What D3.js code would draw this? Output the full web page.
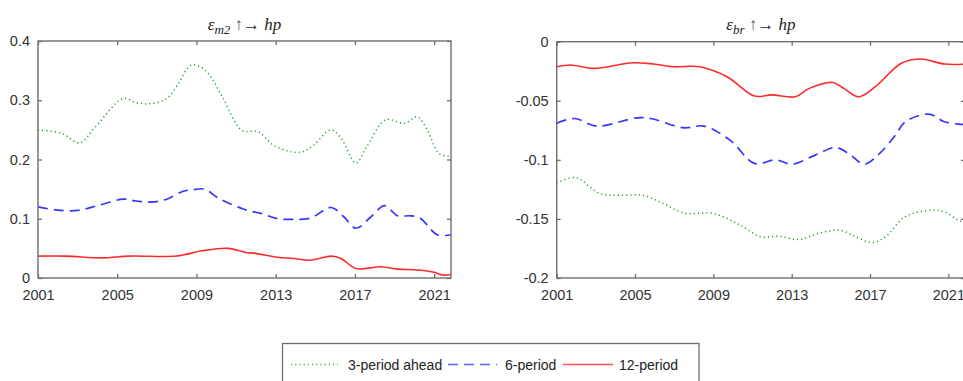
<!DOCTYPE html>
<html>
<head>
<meta charset="utf-8">
<script src="https://cdn.jsdelivr.net/npm/d3@7"></script>
<style>
  html, body { margin: 0; padding: 0; background: #fff; }
  svg { display: block; }
  .tick text { font-family: "Liberation Sans", Arial, sans-serif; font-size: 14.5px; fill: #333; }
</style>
</head>
<body>
<svg id="chart" width="963" height="381"></svg>
<script>
// Horizon labels and tick values
const seriesNames = ["3-period ahead", "6-period", "12-period"];
const xTicks = [2001, 2005, 2009, 2013, 2017, 2021];
const leftYTicks = [0, 0.1, 0.2, 0.3, 0.4];
const rightYTicks = [-0.2, -0.15, -0.1, -0.05, 0];

// Panel 1: response of hp to an m2 shock
const m2Years3 = [2001, 2002.2, 2003.1, 2003.9, 2005.3, 2005.95, 2006.6, 2007.5, 2008.1, 2008.7, 2009.15, 2009.6, 2010.3, 2011.3, 2012.1, 2012.9, 2013.8, 2014.35, 2014.9, 2015.8, 2016.3, 2017.05, 2017.6, 2018.55, 2019.5, 2020.15, 2020.65, 2021.25, 2021.85];
const m2Vals3  = [0.250, 0.244, 0.228, 0.255, 0.303, 0.296, 0.294, 0.303, 0.329, 0.359, 0.357, 0.345, 0.306, 0.249, 0.247, 0.224, 0.213, 0.213, 0.224, 0.250, 0.236, 0.194, 0.222, 0.267, 0.261, 0.272, 0.250, 0.210, 0.205];
const m2Years6 = [2001, 2001.9, 2003, 2004.1, 2005.3, 2005.95, 2006.7, 2007.5, 2008.3, 2008.8, 2009.4, 2010.1, 2011.4, 2012.25, 2013.1, 2013.9, 2014.75, 2015.8, 2016.45, 2017.05, 2017.8, 2018.5, 2019.15, 2019.8, 2020.3, 2021.15, 2021.85];
const m2Vals6  = [0.120, 0.115, 0.114, 0.123, 0.133, 0.130, 0.128, 0.133, 0.146, 0.149, 0.150, 0.135, 0.116, 0.109, 0.100, 0.099, 0.101, 0.119, 0.103, 0.084, 0.103, 0.122, 0.105, 0.105, 0.101, 0.073, 0.073];
const m2Years12 = [2001, 2002.4, 2004.25, 2005.6, 2008, 2009.3, 2010.6, 2011.5, 2011.9, 2013.1, 2013.9, 2014.75, 2015.8, 2016.3, 2017.05, 2018.3, 2019.15, 2020.15, 2021, 2021.4, 2021.85];
const m2Vals12  = [0.037, 0.037, 0.034, 0.037, 0.037, 0.046, 0.050, 0.043, 0.042, 0.035, 0.033, 0.030, 0.037, 0.033, 0.016, 0.019, 0.015, 0.0135, 0.0096, 0.005, 0.006];

// Panel 2: response of hp to a br shock
const brYears3 = [2001, 2001.97, 2003.2, 2004.25, 2005.4, 2006.45, 2007.5, 2009.0, 2010.35, 2011.4, 2012.35, 2013.37, 2014.4, 2015.5, 2016.25, 2017.1, 2017.8, 2018.8, 2020.15, 2020.8, 2021.5, 2021.85];
const brVals3  = [-0.1195, -0.115, -0.1285, -0.130, -0.130, -0.137, -0.145, -0.1454, -0.155, -0.165, -0.1647, -0.1675, -0.162, -0.1596, -0.165, -0.170, -0.165, -0.148, -0.1426, -0.144, -0.151, -0.153];
const brYears6 = [2001, 2001.9, 2003.05, 2005.1, 2005.8, 2007.5, 2008.5, 2009.85, 2011.1, 2012.2, 2013.0, 2014.2, 2015.23, 2015.9, 2016.7, 2017.4, 2018.3, 2018.8, 2020.0, 2020.8, 2021.5, 2021.85];
const brVals6  = [-0.069, -0.065, -0.0714, -0.0644, -0.065, -0.0729, -0.0714, -0.0833, -0.103, -0.100, -0.1037, -0.096, -0.0895, -0.0946, -0.1037, -0.096, -0.079, -0.0678, -0.0613, -0.0678, -0.0697, -0.070];
const brYears12 = [2001, 2001.7, 2002.9, 2004.9, 2005.95, 2006.95, 2008.3, 2009.7, 2011.1, 2012.0, 2013.2, 2013.9, 2015.1, 2015.66, 2016.4, 2017.27, 2018.6, 2019.6, 2020.8, 2021.85];
const brVals12  = [-0.0212, -0.0197, -0.0226, -0.0178, -0.0189, -0.0212, -0.0212, -0.0297, -0.0460, -0.0450, -0.0466, -0.0395, -0.0345, -0.0395, -0.0466, -0.0381, -0.0183, -0.0147, -0.0189, -0.0190];

const styles = [
  { color: "#1f9a1f", dash: "1.2,3", width: 1.4 },
  { color: "#3535ff", dash: "10,6", width: 1.7 },
  { color: "#ff2b2b", dash: null, width: 1.6 }
];

const svg = d3.select("#chart");
const axisColor = "#6e6e6e";

function panel(opts) {
  const { x0, x1, y0, y1, yDomain, yTicks, yFmt, series, title } = opts;
  const x = d3.scaleLinear().domain([2001, 2021.85]).range([x0, x1]);
  const y = d3.scaleLinear().domain(yDomain).range([y1, y0]);
  const g = svg.append("g");

  // lines
  const line = d3.line().x(d => x(d[0])).y(d => y(d[1])).curve(d3.curveCatmullRom.alpha(0.5));
  series.forEach((s, i) => {
    const st = styles[i];
    const p = g.append("path")
      .datum(d3.zip(s.years, s.vals))
      .attr("d", line)
      .attr("fill", "none")
      .attr("stroke", st.color)
      .attr("stroke-width", st.width)
      .attr("stroke-linejoin", "round");
    if (st.dash) p.attr("stroke-dasharray", st.dash);
  });

  // axes with inward ticks on all four sides
  const tl = 4;
  const bottom = g.append("g").attr("transform", `translate(0,${y1})`)
    .call(d3.axisBottom(x).tickValues(xTicks).tickFormat(d3.format("d")).tickSizeInner(-tl).tickSizeOuter(0).tickPadding(13));
  const top = g.append("g").attr("transform", `translate(0,${y0})`)
    .call(d3.axisTop(x).tickValues(xTicks).tickFormat("").tickSizeInner(-tl).tickSizeOuter(0));
  const left = g.append("g").attr("transform", `translate(${x0},0)`)
    .call(d3.axisLeft(y).tickValues(yTicks).tickFormat(yFmt).tickSizeInner(-tl).tickSizeOuter(0).tickPadding(8));
  const right = g.append("g").attr("transform", `translate(${x1},0)`)
    .call(d3.axisRight(y).tickValues(yTicks).tickFormat("").tickSizeInner(-tl).tickSizeOuter(0));
  [bottom, top, left, right].forEach(a => {
    a.select(".domain").remove();
    a.selectAll(".tick line").attr("stroke", axisColor).attr("stroke-width", 1.3);
  });
  bottom.selectAll(".tick text").attr("dy", "0.6em");

  g.append("rect")
    .attr("x", x0).attr("y", y0).attr("width", x1 - x0).attr("height", y1 - y0)
    .attr("fill", "none").attr("stroke", axisColor).attr("stroke-width", 1.4);

  // title: epsilon with subscript, arrows, hp
  const t = g.append("text")
    .attr("x", (x0 + x1) / 2).attr("y", 30)
    .attr("text-anchor", "middle")
    .attr("font-family", "'Liberation Serif', 'DejaVu Serif', serif")
    .attr("font-size", 17).attr("fill", "#222");
  t.append("tspan").attr("font-style", "italic").text("ε");
  t.append("tspan").attr("font-style", "italic").attr("font-size", 13).attr("dy", 4).text(title);
  t.append("tspan").attr("dy", -4).attr("fill", "#555").text(" ↑");
  t.append("tspan").text("→  ");
  t.append("tspan").attr("font-style", "italic").text("hp");
}

const fmtLeft = d => d === 0 ? "0" : d3.format(".1f")(d);
const fmtRight = d => d === 0 ? "0" : String(d);

panel({
  x0: 38, x1: 451, y0: 41, y1: 278,
  yDomain: [0, 0.4], yTicks: leftYTicks, yFmt: fmtLeft, title: "m2",
  series: [
    { years: m2Years3, vals: m2Vals3 },
    { years: m2Years6, vals: m2Vals6 },
    { years: m2Years12, vals: m2Vals12 }
  ]
});

panel({
  x0: 556.7, x1: 965, y0: 41.7, y1: 278,
  yDomain: [-0.2, 0], yTicks: rightYTicks, yFmt: fmtRight, title: "br",
  series: [
    { years: brYears3, vals: brVals3 },
    { years: brYears6, vals: brVals6 },
    { years: brYears12, vals: brVals12 }
  ]
});

// legend
const lg = svg.append("g");
lg.append("rect").attr("x", 282.5).attr("y", 343.5).attr("width", 416.5).attr("height", 50)
  .attr("fill", "#fff").attr("stroke", axisColor).attr("stroke-width", 1.3);
const legendItems = [
  { x1: 291, x2: 338, tx: 348 },
  { x1: 448, x2: 497, tx: 505 },
  { x1: 563, x2: 613, tx: 619 }
];
legendItems.forEach((it, i) => {
  const st = styles[i];
  const l = lg.append("line").attr("x1", it.x1).attr("x2", it.x2).attr("y1", 364.5).attr("y2", 364.5)
    .attr("stroke", st.color).attr("stroke-width", st.width).attr("opacity", 0.8);
  if (st.dash) l.attr("stroke-dasharray", st.dash);
  lg.append("text").attr("x", it.tx).attr("y", 370)
    .attr("font-family", "'Liberation Sans', Arial, sans-serif").attr("font-size", 14).attr("fill", "#222")
    .text(seriesNames[i]);
});
</script>
</body>
</html>
